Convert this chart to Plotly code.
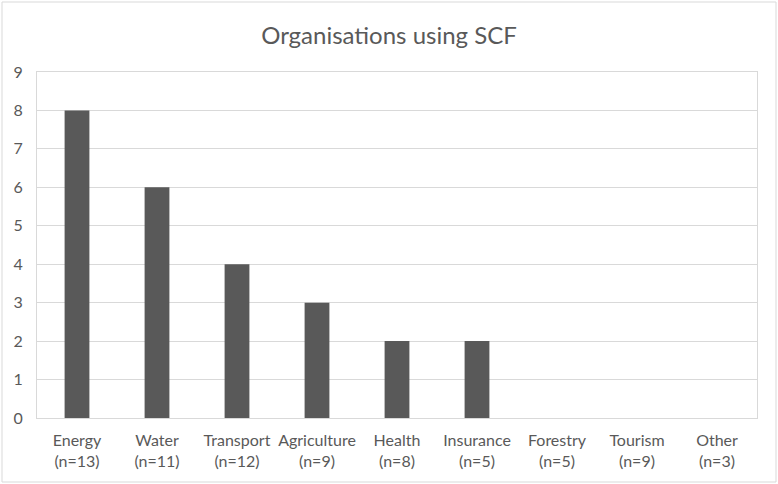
import plotly.graph_objects as go

categories = ["Energy<br>(n=13)", "Water<br>(n=11)", "Transport<br>(n=12)", "Agriculture<br>(n=9)",
              "Health<br>(n=8)", "Insurance<br>(n=5)", "Forestry<br>(n=5)", "Tourism<br>(n=9)", "Other<br>(n=3)"]
values = [8, 6, 4, 3, 2, 2, 0, 0, 0]
title = "Organisations using SCF"

W, H = 778, 484
L, R, T, B = 37, 21, 72, 66
pw, ph = W - L - R, H - T - B

fig = go.Figure(go.Bar(x=categories, y=values, marker=dict(color="#595959", line=dict(width=0)), width=0.31))

fig.update_layout(
    width=W, height=H,
    margin=dict(l=L, r=R, t=T, b=B),
    paper_bgcolor="white", plot_bgcolor="white",
    font=dict(family="Lato, Open Sans, sans-serif", color="#595959", size=16),
    title=dict(text=title, x=0.5, xanchor="center", y=1 - 36 / H, yanchor="middle",
               font=dict(size=24, color="#595959")),
    showlegend=False,
    xaxis=dict(showgrid=False, showline=True, linecolor="#d9d9d9", linewidth=1, mirror=True,
               ticks="", tickfont=dict(size=16), ticklabelstandoff=8),
    yaxis=dict(range=[0, 9], dtick=1, showgrid=True, gridcolor="#d9d9d9", gridwidth=1,
               showline=True, linecolor="#d9d9d9", linewidth=1, mirror=True, zeroline=False,
               ticks="", ticklabelstandoff=10, tickfont=dict(size=16)),
    shapes=[dict(type="rect", xref="paper", yref="paper",
                 x0=(2 - L) / pw, x1=(W - 2 - L) / pw, y0=-(H - 2 - T - ph) / ph, y1=1 + (T - 2) / ph,
                 line=dict(color="#d9d9d9", width=1), layer="below")],
)

fig.write_html("out.html", config={"displayModeBar": False},
               post_script="document.body.style.margin='0';document.body.style.overflow='hidden';")
